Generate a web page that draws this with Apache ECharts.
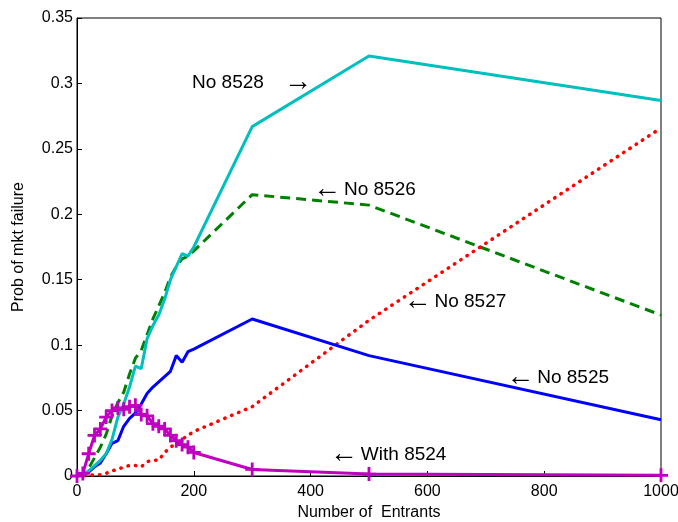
<!DOCTYPE html>
<html><head><meta charset="utf-8">
<script src="https://cdn.jsdelivr.net/npm/echarts@6/dist/echarts.min.js"></script>
<style>html,body{margin:0;padding:0;background:#fff}#c{width:678px;height:522px}</style>
</head><body><div id="c"></div>
<script>
const entrants = [0,10,20,30,40,50,60,70,80,90,100,110,120,130,140,150,160,170,180,190,200,300,500,1000];
const with8524 = [0,0.002,0.017,0.031,0.036,0.045,0.050,0.052,0.051,0.053,0.054,0.047,0.046,0.040,0.038,0.036,0.031,0.027,0.024,0.022,0.018,0.005,0.0015,0.0005];
const no8525 = [0,0.001,0.003,0.007,0.010,0.017,0.025,0.027,0.038,0.044,0.048,0.055,0.063,0.068,0.072,0.076,0.080,0.092,0.087,0.095,0.097,0.120,0.092,0.043];
const no8526 = [0,0.002,0.006,0.014,0.022,0.032,0.046,0.056,0.064,0.078,0.090,0.096,0.108,0.120,0.130,0.140,0.152,0.160,0.166,0.168,0.172,0.215,0.207,0.123];
const no8527 = [0,0,0.0005,0.001,0.001,0.002,0.004,0.005,0.007,0.008,0.008,0.007,0.011,0.012,0.012,0.018,0.022,0.025,0.028,0.031,0.034,0.053,0.119,0.266];
const no8528 = [0,0.001,0.004,0.008,0.012,0.017,0.028,0.045,0.055,0.068,0.084,0.082,0.105,0.115,0.123,0.135,0.150,0.160,0.170,0.168,0.175,0.267,0.321,0.287];
const xTicks = [0,200,400,600,800,1000];
const yTicks = [0,0.05,0.1,0.15,0.2,0.25,0.3,0.35];
const annotations = [
  {label:'No 8528', arrow:'right', x:197, y:0.3003},
  {label:'No 8526', arrow:'left', x:404, y:0.2186},
  {label:'No 8527', arrow:'left', x:559, y:0.133},
  {label:'No 8525', arrow:'left', x:735, y:0.0749},
  {label:'With 8524', arrow:'left', x:433, y:0.016}
];
const pair = arr => entrants.map((x,i)=>[x,arr[i]]);
const font = 'Liberation Sans, Arial, sans-serif';
const chart = echarts.init(document.getElementById('c'), null, {renderer:'canvas'});
const plus = 'path://M-1.4,-7 L1.4,-7 L1.4,-1.4 L7,-1.4 L7,1.4 L1.4,1.4 L1.4,7 L-1.4,7 L-1.4,1.4 L-7,1.4 L-7,-1.4 L-1.4,-1.4 Z';
chart.setOption({
  animation:false,
  backgroundColor:'#fff',
  grid:{left:77,right:17,top:18,bottom:46,containLabel:false,outerBoundsMode:'none',show:true,borderColor:'#000',borderWidth:1,backgroundColor:'transparent'},
  xAxis:{type:'value',min:0,max:1000,interval:200,
    name:'Number of  Entrants',nameLocation:'middle',nameGap:29,
    nameTextStyle:{fontFamily:font,fontSize:16,color:'#000'},
    axisLine:{lineStyle:{color:'#000'}},
    axisTick:{inside:true,length:5,lineStyle:{color:'#000'}},
    axisLabel:{fontFamily:font,fontSize:16,color:'#000',margin:8,formatter:v=>xTicks.includes(v)?String(v):''},
    splitLine:{show:false}},
  yAxis:{type:'value',min:0,max:0.35,interval:0.05,
    name:'Prob of mkt failure',nameLocation:'middle',nameGap:50,nameRotate:90,
    nameTextStyle:{fontFamily:font,fontSize:16,color:'#000'},
    axisLine:{lineStyle:{color:'#000'}},
    axisTick:{inside:true,length:5,lineStyle:{color:'#000'}},
    axisLabel:{fontFamily:font,fontSize:16,color:'#000',margin:4,formatter:v=>{const t=yTicks.find(k=>Math.abs(k-v)<1e-9);return t===undefined?'':String(+t.toFixed(2));}},
    splitLine:{show:false}},
  series:[
    {name:'No 8526',type:'line',data:pair(no8526),symbol:'none',z:2,lineStyle:{color:'#008000',width:3,type:[10,6]}},
    {name:'No 8527',type:'line',data:pair(no8527),symbol:'none',z:2,lineStyle:{color:'#ff0000',width:3.5,type:[0.5,7],cap:'round'}},
    {name:'No 8525',type:'line',data:pair(no8525),symbol:'none',z:3,lineStyle:{color:'#0000ff',width:3}},
    {name:'No 8528',type:'line',data:pair(no8528),symbol:'none',z:4,lineStyle:{color:'#00bfbf',width:3}},
    {name:'With 8524',type:'line',data:pair(with8524),symbol:plus,symbolSize:14,z:5,
      itemStyle:{color:'#c000c0'},lineStyle:{color:'#c000c0',width:3},
      markPoint:{symbol:'circle',symbolSize:0,silent:true,
        label:{show:true,position:'right',distance:0,color:'#000',
          formatter:p=>{const a=annotations[p.dataIndex];return a.arrow==='right'?'{t|'+a.label+'}{g|}{a|\u2192}':'{a|\u2190}{s|}{t|'+a.label+'}';},
          rich:{
            t:{fontFamily:font,fontSize:19,color:'#000',verticalAlign:'middle'},
            a:{fontFamily:'Liberation Serif, DejaVu Serif',fontSize:28,color:'#000',verticalAlign:'middle',lineHeight:22},
            g:{width:20},
            s:{width:3}
          }},
        data:annotations.map(a=>({name:a.label,coord:[a.x,a.y]}))}}
  ]
});
</script></body></html>
